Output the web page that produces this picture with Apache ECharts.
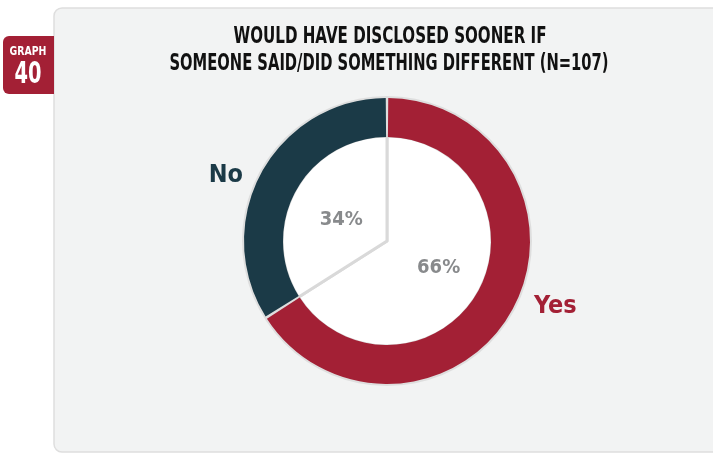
<!DOCTYPE html>
<html lang="en">
<head>
<meta charset="UTF-8">
<title>Would have disclosed sooner</title>
<script src="https://cdn.jsdelivr.net/npm/echarts@6/dist/echarts.min.js"></script>
<style>
*{margin:0;padding:0;}
body{background:#fff;}
#chart{width:713px;height:454px;}
</style>
</head>
<body>
<div id="chart"></div>
<script>
var categories = ['Yes', 'No'];
var shares = [66, 34];
var colors = ['#a32035', '#1b3a47'];
var titleLines = ['WOULD HAVE DISCLOSED SOONER IF', 'SOMEONE SAID/DID SOMETHING DIFFERENT (N=107)'];
var badgeText = ['GRAPH', '40'];

var font = "'DejaVu Sans Condensed', sans-serif";
var center = [387, 241];
// nudges so the labels sit where the original puts them
var nameShift = [[8, -8], [-5, 8]];
var pctShift = [[3, 0], [3, 6]];

var ringData = [], innerData = [];
for (var i = 0; i < categories.length; i++) {
    ringData.push({
        name: categories[i], value: shares[i],
        itemStyle: {color: colors[i]},
        label: {color: colors[i]}
    });
    innerData.push({name: categories[i], value: shares[i]});
}

var chart = echarts.init(document.getElementById('chart'));
chart.setOption({
    animation: false,
    graphic: [
        {type: 'rect', z: 0, shape: {x: 54, y: 8, width: 700, height: 444, r: 8},
         style: {fill: '#f2f3f3', stroke: '#dedede', lineWidth: 1.5}},
        {type: 'rect', z: 1, shape: {x: 3, y: 36, width: 51, height: 58, r: [6, 0, 0, 6]},
         style: {fill: '#a32035'}},
        {type: 'text', z: 2, x: 28, y: 52, scaleX: 0.8, style: {text: badgeText[0], fill: '#fff', font: 'bold 13px ' + font, align: 'center', verticalAlign: 'middle'}},
        {type: 'text', z: 2, x: 28, y: 75, scaleX: 0.72, style: {text: badgeText[1], fill: '#fff', font: 'bold 30px ' + font, align: 'center', verticalAlign: 'middle'}},
        {type: 'text', z: 2, x: 390, y: 37, scaleX: 0.73, style: {text: titleLines[0], fill: '#111', font: 'bold 23px ' + font, align: 'center', verticalAlign: 'middle'}},
        {type: 'text', z: 2, x: 389, y: 64, scaleX: 0.712, style: {text: titleLines[1], fill: '#111', font: 'bold 23px ' + font, align: 'center', verticalAlign: 'middle'}}
    ],
    series: [
        {
            type: 'pie', center: center, radius: [0, 145], silent: true,
            label: {show: false}, labelLine: {show: false},
            data: [{value: 1, itemStyle: {color: '#dedede'}}]
        },
        {
            type: 'pie', center: center, radius: [0, 105], startAngle: 90, silent: true,
            itemStyle: {color: '#ffffff', borderColor: '#d9d9d9', borderWidth: 3},
            label: {position: 'inner', formatter: '{c}%', color: '#888a8c', fontSize: 20, fontWeight: 'bold', fontFamily: font},
            labelLine: {show: false},
            labelLayout: function (p) { return {dx: pctShift[p.dataIndex][0], dy: pctShift[p.dataIndex][1]}; },
            data: innerData
        },
        {
            type: 'pie', center: center, radius: [104, 143], startAngle: 90, padAngle: 1, silent: true,
            label: {position: 'outside', formatter: '{b}', fontSize: 25, fontWeight: 'bold', fontFamily: font},
            labelLine: {show: false, length: 10, length2: 0},
            labelLayout: function (p) { return {dx: nameShift[p.dataIndex][0], dy: nameShift[p.dataIndex][1]}; },
            data: ringData
        }
    ]
});
</script>
</body>
</html>
